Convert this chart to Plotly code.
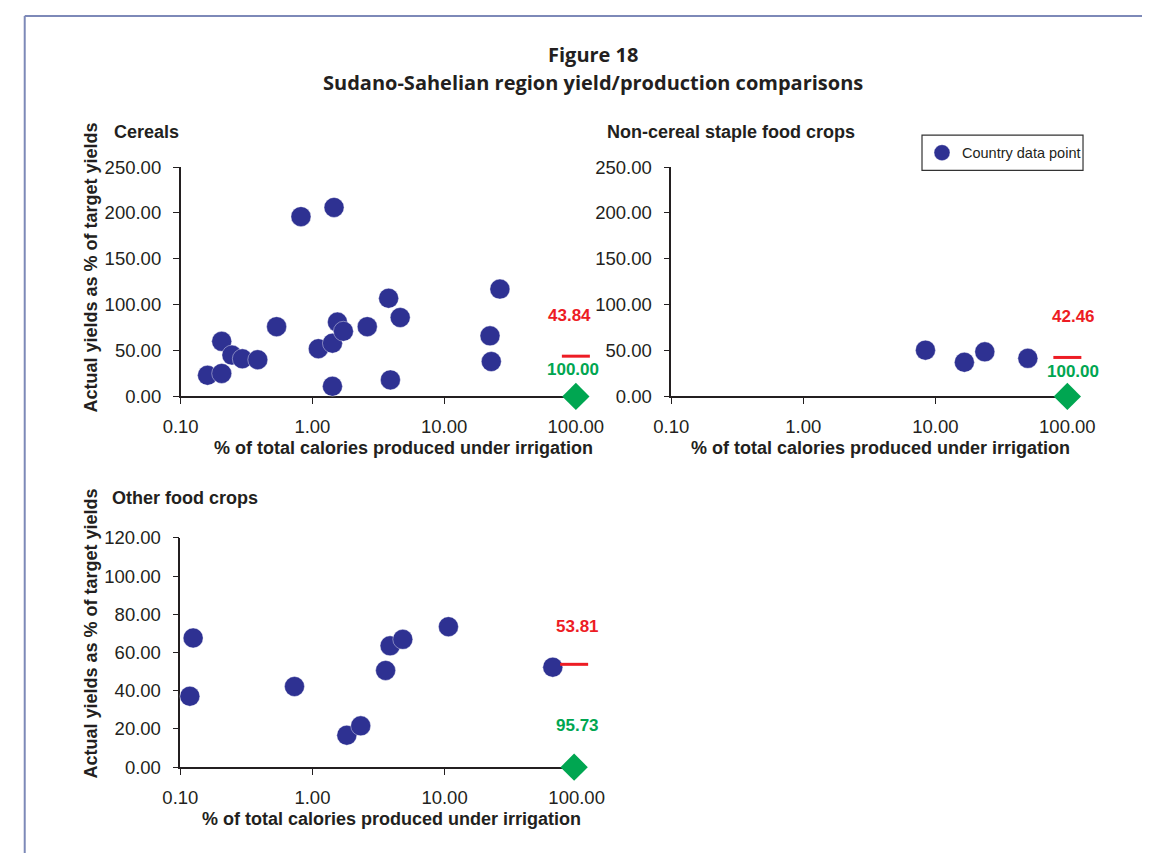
import math
import plotly.graph_objects as go

# ---------------- data ----------------
cereal_x = [0.16, 0.205, 0.205, 0.245, 0.294, 0.385, 0.535, 0.819, 1.46, 1.11, 1.42,
            1.55, 1.72, 1.42, 2.61, 3.79, 4.64, 3.91, 26.5, 22.3, 22.8]
cereal_y = [23, 25, 60, 45, 41, 40, 76, 196, 206, 52, 58,
            81, 71, 11, 76, 107, 86, 18, 117, 66, 38]

noncereal_x = [8.42, 16.6, 23.7, 50.2]
noncereal_y = [50.4, 37.2, 48.6, 41.5]

other_x = [0.125, 0.118, 0.731, 1.82, 2.32, 3.58, 3.87, 4.83, 10.7, 66.0]
other_y = [67.6, 37.1, 42.2, 16.7, 21.6, 50.6, 63.5, 66.9, 73.5, 52.3]

panel_names = ["Cereals", "Non-cereal staple food crops", "Other food crops"]
avg_yield = [43.84, 42.46, 53.81]        # red dash (regional average yield)
avg_irrig = [100.00, 100.00, 95.73]      # green diamond (irrigation share)

x_ticks = [0.1, 1, 10, 100]
x_ticktext = ["0.10", "1.00", "10.00", "100.00"]
y_max = [250, 250, 120]
y_dtick = [50, 50, 20]

y_title = "Actual yields as % of target yields"
x_title = "% of total calories produced under irrigation"
legend_name = "Country data point"
fig_title = ["Figure 18", "Sudano-Sahelian region yield/production comparisons"]

# ---------------- styling ----------------
BLUE = "#2e3192"
RED = "#ed1c24"
GREEN = "#00a651"
INK = "#231f20"
SANS = "Liberation Sans, Arial, sans-serif"

W, H = 1170, 863


def px(sx):
    return sx / W


def py(sy):
    return 1 - sy / H


fig = go.Figure()

panels = [
    dict(xd=[px(169.3), px(580.7)], yd=[py(395), py(160)], xs=cereal_x, ys=cereal_y),
    dict(xd=[px(680), px(1092.3)], yd=[py(395), py(160)], xs=noncereal_x, ys=noncereal_y),
    dict(xd=[px(169), px(581.5)], yd=[py(775), py(540)], xs=other_x, ys=other_y),
]

for i, p in enumerate(panels):
    n = "" if i == 0 else str(i + 1)
    xa, ya = "x" + n, "y" + n
    fig.add_trace(go.Scatter(
        x=p["xs"], y=p["ys"], mode="markers", xaxis=xa, yaxis=ya,
        name=legend_name, showlegend=(i == 0), cliponaxis=False,
        marker=dict(color=BLUE, size=20, line=dict(color="rgba(255,255,255,0.5)", width=0.8)),
        hoverinfo="x+y"))
    fig.add_trace(go.Scatter(
        x=[avg_irrig[i]], y=[avg_yield[i]], mode="markers", xaxis=xa, yaxis=ya,
        showlegend=False, cliponaxis=False,
        marker=dict(symbol="line-ew", size=20, color=RED, line=dict(color=RED, width=3))))
    fig.add_trace(go.Scatter(
        x=[avg_irrig[i]], y=[0], mode="markers", xaxis=xa, yaxis=ya,
        showlegend=False, cliponaxis=False,
        marker=dict(symbol="diamond", size=21, color=GREEN, line=dict(width=0))))

    axis_common = dict(showline=True, linecolor=INK, linewidth=1.5, ticks="outside",
                       ticklen=6, tickcolor=INK, tickwidth=1.2, showgrid=False,
                       zeroline=False, layer="below traces",
                       tickfont=dict(family=SANS, size=18.5, color=INK))
    fig.layout["xaxis" + n] = dict(
        type="log", range=[-1, 2], domain=p["xd"], anchor=ya,
        tickvals=x_ticks, ticktext=x_ticktext, ticklabelstandoff=7, **axis_common)
    fig.layout["yaxis" + n] = dict(
        range=[0, y_max[i]], dtick=y_dtick[i], tickformat=".2f", domain=p["yd"],
        anchor=xa, ticklabelstandoff=8, **axis_common)

# value labels (shift in pixels from the marker they describe)
label_shift = [dict(rx=-6, ry=41, gx=-3, gy=27),
               dict(rx=6, ry=41, gx=6, gy=25),
               dict(rx=3, ry=38, gx=3, gy=42)]
ann = []
for i in range(3):
    n = "" if i == 0 else str(i + 1)
    s = label_shift[i]
    lx = math.log10(avg_irrig[i])
    ann.append(dict(x=lx, y=avg_yield[i], xref="x" + n, yref="y" + n,
                    text="%.2f" % avg_yield[i], showarrow=False,
                    xanchor="center", yanchor="middle",
                    xshift=s["rx"], yshift=s["ry"],
                    font=dict(family=SANS, size=17, color=RED, weight="bold")))
    ann.append(dict(x=lx, y=0, xref="x" + n, yref="y" + n,
                    text="%.2f" % avg_irrig[i], showarrow=False,
                    xanchor="center", yanchor="middle",
                    xshift=s["gx"], yshift=s["gy"],
                    font=dict(family=SANS, size=17, color=GREEN, weight="bold")))

TFONT = dict(family=SANS, size=18, color=INK, weight="bold")
# panel titles
for name, (lx, ly) in zip(panel_names, [(97.5, 124), (610.7, 124), (95.7, 499)]):
    ann.append(dict(x=px(lx), y=py(ly), xref="paper", yref="paper", text=name,
                    showarrow=False, xanchor="left", yanchor="middle", font=TFONT))
# axis titles
for (cx, cy) in [(401, 448), (898, 448), (389, 828)]:
    ann.append(dict(x=px(cx), y=py(cy), xref="paper", yref="paper", text=x_title,
                    showarrow=False, xanchor="center", yanchor="middle", font=TFONT))
for cy in [263, 638]:
    ann.append(dict(x=px(76), y=py(cy), xref="paper", yref="paper", text=y_title,
                    textangle=-90, showarrow=False, xanchor="center", yanchor="middle",
                    font=TFONT))
# main title
for txt, cy in zip(fig_title, [45, 73]):
    ann.append(dict(x=px(599), y=py(cy), xref="paper", yref="paper", text=txt,
                    showarrow=False, xanchor="center", yanchor="middle",
                    font=dict(family="Open Sans", size=20, color=INK, weight="bold")))

FRAME = "#7d89b8"
shapes = [
    dict(type="line", xref="paper", yref="paper", x0=px(7), x1=1.0, y0=py(5), y1=py(5),
         line=dict(color=FRAME, width=2)),
    dict(type="line", xref="paper", yref="paper", x0=px(7), x1=px(7), y0=py(5), y1=0,
         line=dict(color=FRAME, width=2)),
    # legend frame
    dict(type="rect", xref="paper", yref="paper", x0=px(941), x1=px(1108.6),
         y0=py(163.3), y1=py(127.3), line=dict(color="#333333", width=1.2),
         fillcolor="rgba(0,0,0,0)", layer="below"),
]

fig.update_layout(
    width=W, height=H, margin=dict(l=0, r=0, t=0, b=0),
    paper_bgcolor="white", plot_bgcolor="white",
    annotations=ann, shapes=shapes,
    showlegend=True,
    legend=dict(x=px(941), y=py(145.3), xanchor="left", yanchor="middle",
                borderwidth=0, bgcolor="rgba(0,0,0,0)",
                font=dict(family=SANS, size=14.5, color=INK),
                itemsizing="trace"),
)

fig.write_html(
    "out.html",
    config={"displayModeBar": False},
    post_script="document.body.style.margin='0';document.body.style.overflow='hidden';"
                "document.documentElement.style.overflow='hidden';")
